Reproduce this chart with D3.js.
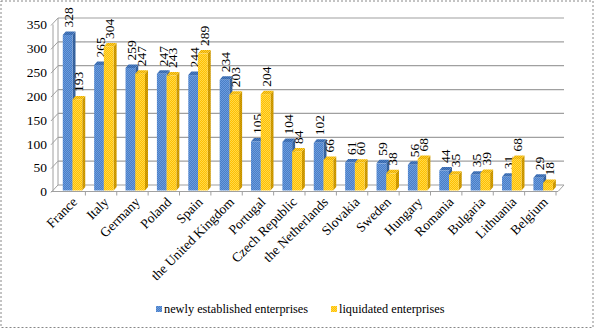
<!DOCTYPE html>
<html>
<head>
<meta charset="utf-8">
<script src="https://cdn.jsdelivr.net/npm/d3@7"></script>
<style>
  body { margin: 0; background: #fff; }
  text { font-family: "Liberation Serif", "Times New Roman", serif; fill: #000; }
</style>
</head>
<body>
<script>
// countries and values
const countries = ["France", "Italy", "Germany", "Poland", "Spain", "the United Kingdom",
  "Portugal", "Czech Republic", "the Netherlands", "Slovakia", "Sweden", "Hungary",
  "Romania", "Bulgaria", "Lithuania", "Belgium"];
const newlyEstablished = [328, 265, 259, 247, 244, 234, 105, 104, 102, 61, 59, 56, 44, 35, 31, 29];
const liquidated = [193, 304, 247, 243, 289, 203, 204, 84, 66, 60, 38, 68, 35, 39, 68, 18];
const seriesNames = ["newly established enterprises", "liquidated enterprises"];
const yTicks = [0, 50, 100, 150, 200, 250, 300, 350];

const w = 595;
const h = 329;

// front edge of the plot and the depth of the 3d walls
const plotLeft = 54, plotRight = 556, plotBottom = 191.5, plotTop = 24.5;
const depthX = 5, depthY = -6.5;
const barDX = 3, barDY = -3.5;

const svg = d3.select('body').append('svg')
  .attr('width', w)
  .attr('height', h);

// bar textures (checker like the picture)
const defs = svg.append('defs');
function checker(id, c1, c2) {
  const p = defs.append('pattern')
    .attr('id', id)
    .attr('width', 2).attr('height', 2)
    .attr('patternUnits', 'userSpaceOnUse');
  p.append('rect').attr('width', 2).attr('height', 2).attr('fill', c1);
  p.append('rect').attr('width', 1).attr('height', 1).attr('fill', c2);
  p.append('rect').attr('x', 1).attr('y', 1).attr('width', 1).attr('height', 1).attr('fill', c2);
}
checker('blueFront', '#4a7fc4', '#6b9be0');
checker('orangeFront', '#ffc000', '#ffd84a');
checker('blueSide', '#2f5a95', '#3c6aa8');
checker('orangeSide', '#c08e00', '#d9a200');
checker('blueTop', '#3565a8', '#4d7fc4');
checker('orangeTop', '#e8ad00', '#ffcf30');

const fronts = ['url(#blueFront)', 'url(#orangeFront)'];
const sides = ['url(#blueSide)', 'url(#orangeSide)'];
const tops = ['url(#blueTop)', 'url(#orangeTop)'];
const legendColors = ['url(#blueFront)', 'url(#orangeFront)'];

// outer dashed border
svg.append('rect')
  .attr('x', 1).attr('y', 1)
  .attr('width', w - 3).attr('height', h - 2.5)
  .attr('fill', 'none')
  .attr('stroke', '#888')
  .attr('stroke-dasharray', '2,2');

const y = d3.scaleLinear().domain([0, 350]).range([plotBottom, plotTop]);
const x0 = d3.scaleBand().domain(countries).range([plotLeft, plotRight]);
const x1 = d3.scaleBand().domain([0, 1])
  .range([x0.bandwidth() * 0.28, x0.bandwidth() * 0.9]);

const grid = svg.append('g');
// back wall grid lines
grid.selectAll('.grid')
  .data(yTicks)
  .enter()
  .append('line')
  .attr('x1', plotLeft + depthX - 1)
  .attr('x2', plotRight + depthX + 3)
  .attr('y1', (d) => y(d) + depthY)
  .attr('y2', (d) => y(d) + depthY)
  .attr('stroke', '#a0a0a0')
  .attr('stroke-width', 1.2);

// little diagonal ticks on the left wall
grid.selectAll('.diag')
  .data(yTicks)
  .enter()
  .append('line')
  .attr('x1', plotLeft - 3)
  .attr('x2', plotLeft + depthX - 1)
  .attr('y1', (d) => y(d) + 1)
  .attr('y2', (d) => y(d) + depthY)
  .attr('stroke', '#a0a0a0');

// back wall left edge and the left axis line
grid.append('line')
  .attr('x1', plotLeft + depthX - 1).attr('x2', plotLeft + depthX - 1)
  .attr('y1', y(350) + depthY).attr('y2', y(0) + depthY)
  .attr('stroke', '#a0a0a0');
grid.append('line')
  .attr('x1', plotLeft - 1).attr('x2', plotLeft - 1)
  .attr('y1', y(350)).attr('y2', y(0))
  .attr('stroke', '#a0a0a0');

// floor front and right edge
grid.append('line')
  .attr('x1', plotLeft - 3).attr('x2', plotRight + 2)
  .attr('y1', plotBottom).attr('y2', plotBottom)
  .attr('stroke', '#a0a0a0');
grid.append('line')
  .attr('x1', plotRight + 2).attr('x2', plotRight + depthX + 3)
  .attr('y1', plotBottom).attr('y2', plotBottom + depthY)
  .attr('stroke', '#a0a0a0');

// category ticks under the floor
grid.selectAll('.xtick')
  .data(countries)
  .enter()
  .append('line')
  .attr('x1', (d) => x0(d) + x0.bandwidth())
  .attr('x2', (d) => x0(d) + x0.bandwidth())
  .attr('y1', plotBottom)
  .attr('y2', plotBottom + 4)
  .attr('stroke', '#a0a0a0');

// y tick labels
svg.append('g').selectAll('text')
  .data(yTicks)
  .enter()
  .append('text')
  .attr('x', plotLeft - 7)
  .attr('y', (d) => y(d))
  .attr('dy', '0.35em')
  .attr('text-anchor', 'end')
  .style('font-size', '13.5px')
  .text((d) => d);

// bars as small 3d boxes
const rows = [];
countries.forEach((c, i) => {
  rows.push({ c: c, s: 0, v: newlyEstablished[i] });
  rows.push({ c: c, s: 1, v: liquidated[i] });
});

const bars = svg.append('g').selectAll('g')
  .data(rows)
  .enter()
  .append('g');

bars.append('path')
  .attr('fill', (d) => sides[d.s])
  .attr('d', (d) => {
    const xr = x0(d.c) + x1(d.s) + x1.bandwidth();
    const yt = y(d.v), yb = y(0) - 1;
    return 'M' + xr + ',' + yt + 'L' + (xr + barDX) + ',' + (yt + barDY) +
      'L' + (xr + barDX) + ',' + (yb + barDY) + 'L' + xr + ',' + yb + 'Z';
  });

bars.append('path')
  .attr('fill', (d) => tops[d.s])
  .attr('d', (d) => {
    const xl = x0(d.c) + x1(d.s), xr = xl + x1.bandwidth();
    const yt = y(d.v);
    return 'M' + xl + ',' + yt + 'L' + (xl + barDX) + ',' + (yt + barDY) +
      'L' + (xr + barDX) + ',' + (yt + barDY) + 'L' + xr + ',' + yt + 'Z';
  });

bars.append('rect')
  .attr('x', (d) => x0(d.c) + x1(d.s))
  .attr('y', (d) => y(d.v))
  .attr('width', x1.bandwidth())
  .attr('height', (d) => y(0) - 1 - y(d.v))
  .attr('fill', (d) => fronts[d.s]);

// value labels, rotated
bars.append('text')
  .attr('transform', (d) => 'translate(' + (x0(d.c) + x1(d.s) + x1.bandwidth() / 2 + 1) +
    ',' + (y(d.v) + barDY - 4) + ') rotate(-90)')
  .attr('dy', '0.35em')
  .style('font-size', '13.5px')
  .text((d) => d.v);

// category labels at 45 degrees
svg.append('g').selectAll('text')
  .data(countries)
  .enter()
  .append('text')
  .attr('transform', (d) => 'translate(' + (x0(d) + x0.bandwidth() / 2 + 5) + ',' + (plotBottom + 8) + ') rotate(-45)')
  .attr('text-anchor', 'end')
  .attr('dy', '0.35em')
  .style('font-size', '13.5px')
  .text((d) => d);

// legend
const legendPos = [156, 331];
const legend = svg.append('g').selectAll('g')
  .data(seriesNames)
  .enter()
  .append('g')
  .attr('transform', (d, i) => 'translate(' + legendPos[i] + ',306)');

legend.append('rect')
  .attr('width', 6)
  .attr('height', 6)
  .attr('fill', (d, i) => legendColors[i]);

legend.append('text')
  .attr('x', 8)
  .attr('y', 7)
  .style('font-size', '12.3px')
  .text((d) => d);
</script>
</body>
</html>
